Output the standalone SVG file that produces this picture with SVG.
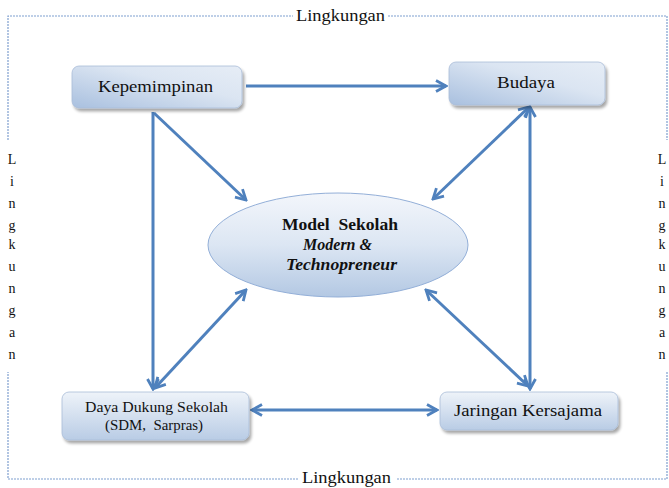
<svg xmlns="http://www.w3.org/2000/svg" width="669" height="488" viewBox="0 0 669 488">
<defs>
<linearGradient id="boxg" x1="0" y1="1" x2="1" y2="0">
<stop offset="0" stop-color="#a9c0df"/>
<stop offset="0.6" stop-color="#dbe5f2"/>
<stop offset="1" stop-color="#e6edf6"/>
</linearGradient>
<linearGradient id="boxg2" x1="0" y1="0" x2="0" y2="1">
<stop offset="0" stop-color="#eef3f9"/>
<stop offset="1" stop-color="#b9cce5"/>
</linearGradient>
<linearGradient id="ellg" x1="0" y1="0" x2="0" y2="1">
<stop offset="0" stop-color="#f3f6fb"/>
<stop offset="0.5" stop-color="#dce6f3"/>
<stop offset="1" stop-color="#b3c8e3"/>
</linearGradient>
<filter id="sh" x="-10%" y="-20%" width="125%" height="160%">
<feGaussianBlur in="SourceAlpha" stdDeviation="1.5"/>
<feOffset dx="2" dy="3" result="b"/>
<feComponentTransfer><feFuncA type="linear" slope="0.35"/></feComponentTransfer>
<feMerge><feMergeNode/><feMergeNode in="SourceGraphic"/></feMerge>
</filter>
<marker id="ah" viewBox="0 0 14 14" refX="12" refY="7" markerWidth="14" markerHeight="14" markerUnits="userSpaceOnUse" orient="auto-start-reverse">
<path d="M2,1.5 L12,7 L2,12.5" fill="none" stroke="#4f81bd" stroke-width="2.8" stroke-linejoin="miter"/>
</marker>
</defs>
<style>
.t{font-family:"Liberation Serif","Times New Roman",serif;fill:#111;}
.n{font-size:16px;}
.lg{font-size:16px;}
.v{font-size:14px;}
.bd{fill:none;stroke:#7f9fcf;stroke-width:1.2;stroke-dasharray:2 1;}
.box{stroke:#a9bcd8;stroke-width:0.8;filter:url(#sh);}
.c{fill:none;stroke:#4f81bd;stroke-width:3;marker-end:url(#ah);}
.c2{fill:none;stroke:#4f81bd;stroke-width:3;marker-end:url(#ah);marker-start:url(#ah);}
</style>
<rect width="669" height="488" fill="#ffffff"/>
<g id="border">
<path class="bd" d="M8,140 V16 H293 M388,16 H667 V140 M667,372 V479 H396 M298,479 H8 V372"/>
<text class="t lg" x="296" y="21" textLength="89" lengthAdjust="spacingAndGlyphs">Lingkungan</text>
<text class="t lg" x="302" y="483" textLength="89" lengthAdjust="spacingAndGlyphs">Lingkungan</text>
<g class="t v" text-anchor="middle">
<text x="12" y="164">L</text><text x="12" y="186">i</text><text x="12" y="208">n</text><text x="12" y="230">g</text><text x="12" y="249">k</text><text x="12" y="271">u</text><text x="12" y="293">n</text><text x="12" y="315">g</text><text x="12" y="337">a</text><text x="12" y="359">n</text>
</g>
<g class="t v" text-anchor="middle">
<text x="662" y="164">L</text><text x="662" y="186">i</text><text x="662" y="208">n</text><text x="662" y="230">g</text><text x="662" y="249">k</text><text x="662" y="271">u</text><text x="662" y="293">n</text><text x="662" y="315">g</text><text x="662" y="337">a</text><text x="662" y="359">n</text>
</g>
</g>
<g id="connectors">
<line class="c" x1="246" y1="86" x2="446" y2="86"/>
<line class="c" x1="153" y1="112" x2="153" y2="389"/>
<line class="c" x1="154" y1="113" x2="246" y2="200"/>
<line class="c2" x1="529" y1="107" x2="433" y2="199"/>
<line class="c2" x1="530" y1="107" x2="530" y2="389"/>
<line class="c2" x1="246" y1="290" x2="155" y2="388"/>
<line class="c2" x1="426" y1="290" x2="528" y2="386"/>
<line class="c2" x1="252" y1="410" x2="437" y2="410"/>
</g>
<g id="kepemimpinan">
<rect class="box" x="72" y="66" width="170" height="42" rx="7" fill="url(#boxg)"/>
<text class="t n" x="98" y="92" textLength="115" lengthAdjust="spacingAndGlyphs">Kepemimpinan</text>
</g>
<g id="budaya">
<rect class="box" x="449" y="62" width="156" height="43" rx="7" fill="url(#boxg)"/>
<text class="t n" x="497" y="88" textLength="58" lengthAdjust="spacingAndGlyphs">Budaya</text>
</g>
<g id="model">
<ellipse cx="338" cy="245" rx="130" ry="52" fill="url(#ellg)" stroke="#93afd8" stroke-width="1"/>
<text class="t" x="282" y="230" font-size="16" font-weight="bold" xml:space="preserve" textLength="116" lengthAdjust="spacingAndGlyphs">Model  Sekolah</text>
<text class="t" x="303" y="250" font-size="16" font-weight="bold" font-style="italic" textLength="69" lengthAdjust="spacingAndGlyphs">Modern &amp;</text>
<text class="t" x="286" y="270" font-size="16" font-weight="bold" font-style="italic" textLength="111" lengthAdjust="spacingAndGlyphs">Technopreneur</text>
</g>
<g id="daya">
<rect class="box" x="62" y="392" width="187" height="48" rx="7" fill="url(#boxg2)"/>
<text class="t" x="85" y="412" font-size="14" textLength="143" lengthAdjust="spacingAndGlyphs">Daya Dukung Sekolah</text>
<text class="t" x="105" y="430" font-size="14" xml:space="preserve" textLength="98" lengthAdjust="spacingAndGlyphs">(SDM,  Sarpras)</text>
</g>
<g id="jaringan">
<rect class="box" x="440" y="392" width="178" height="38" rx="7" fill="url(#boxg2)"/>
<text class="t n" x="454" y="416" textLength="148" lengthAdjust="spacingAndGlyphs">Jaringan Kersajama</text>
</g>
</svg>
